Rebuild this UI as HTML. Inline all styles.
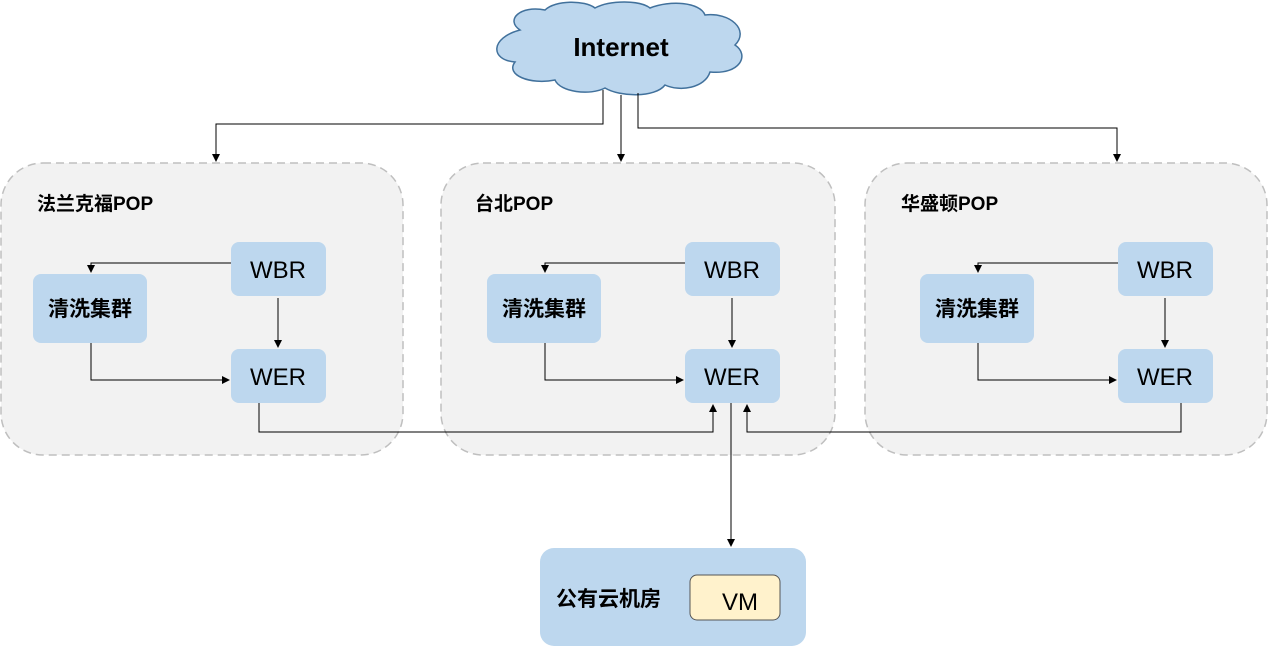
<!DOCTYPE html>
<html><head><meta charset="utf-8"><style>
body{margin:0;background:#fff}
svg{display:block}
text{font-family:"Liberation Sans","Noto Sans CJK SC",sans-serif}
</style></head><body>
<svg width="1269" height="647" viewBox="0 0 1269 647" xmlns="http://www.w3.org/2000/svg">
<defs>
<marker id="a" markerWidth="8" markerHeight="8" refX="7" refY="4" orient="auto" markerUnits="userSpaceOnUse">
<path d="M0,0 L8,4 L0,8 z" fill="#000"/></marker>
</defs>
<g fill="#f2f2f2" stroke="#bfbfbf" stroke-width="1.5" stroke-dasharray="8,5">
<rect x="1" y="163" width="402" height="292" rx="42"/>
<rect x="441" y="163" width="394" height="292" rx="42"/>
<rect x="865" y="163" width="402" height="292" rx="42"/>
</g>
<path d="M520,30 C505,20 520,5 545,10 C555,0 585,0 595,8 C610,0 640,0 650,8 C670,0 700,2 705,15 C730,12 750,30 735,45 C750,55 740,75 710,72 C705,88 680,92 665,85 C655,98 620,97 605,88 C590,96 560,92 555,80 C530,85 505,75 515,62 C490,60 490,38 520,30 Z" fill="#bdd7ee" stroke="#41719c" stroke-width="1.5"/>
<text x="621" y="56" font-size="26" font-weight="bold" text-anchor="middle">Internet</text>
<g fill="none" stroke="#000" stroke-width="1">
<path d="M603,90 V124 H216 V161" marker-end="url(#a)"/>
<path d="M621,95 V161" marker-end="url(#a)"/>
<path d="M638,93 V128 H1117 V161" marker-end="url(#a)"/>
<path d="M259,403 V432 H713 V405" marker-end="url(#a)"/>
<path d="M1181,403 V432 H747 V405" marker-end="url(#a)"/>
<path d="M731,403 V546" marker-end="url(#a)"/>
</g>
<g id="p">
<g fill="#bdd7ee">
<rect x="231" y="242" width="95" height="54" rx="8"/>
<rect x="33" y="274" width="114" height="69" rx="8"/>
<rect x="231" y="349" width="95" height="54" rx="8"/>
</g>
<g fill="none" stroke="#000" stroke-width="1">
<path d="M231,263 H91 V272" marker-end="url(#a)"/>
<path d="M278,298 V347" marker-end="url(#a)"/>
<path d="M91,343 V380 H229" marker-end="url(#a)"/>
</g>
<text x="278" y="278" font-size="24" text-anchor="middle">WBR</text>
<text x="278" y="385" font-size="24" text-anchor="middle">WER</text>
<text x="90" y="316" font-size="21" font-weight="bold" text-anchor="middle">清洗集群</text>
</g>
<use href="#p" x="454"/>
<use href="#p" x="887"/>
<g font-size="19" font-weight="bold">
<text x="37" y="210">法兰克福POP</text>
<text x="475" y="210">台北POP</text>
<text x="901" y="210">华盛顿POP</text>
</g>
<rect x="540" y="548" width="266" height="98" rx="14" fill="#bdd7ee"/>
<text x="556" y="606" font-size="21" font-weight="bold">公有云机房</text>
<rect x="690" y="575" width="90" height="45" rx="7" fill="#fff2cc" stroke="#555" stroke-width="1"/>
<text x="740" y="610" font-size="24" text-anchor="middle">VM</text>
</svg>
</body></html>
